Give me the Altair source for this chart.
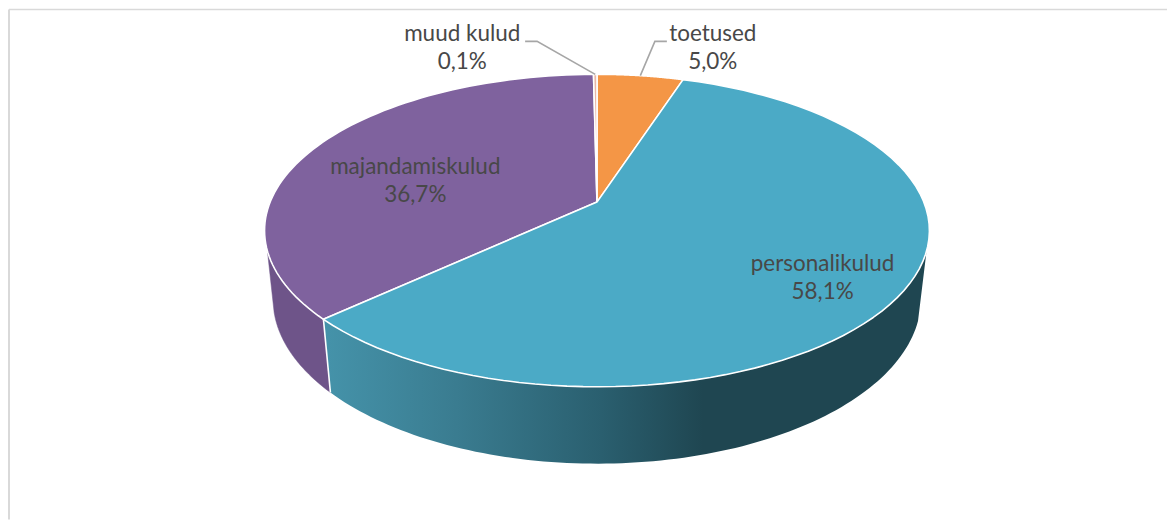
import numpy as np
import pandas as pd
import altair as alt

# --- values -----------------------------------------------------------------
categories = ["toetused", "personalikulud", "majandamiskulud", "muud kulud"]
shares = [5.0, 58.1, 36.7, 0.1]
share_labels = ["5,0%", "58,1%", "36,7%", "0,1%"]
top_colors = ["#F49646", "#4BAAC6", "#7F629E", "#E9B7A6"]

# pixels-from-centre data space of the tilted pie
TOP_RX, TOP_RY = 333.0, 156.5
BOT_RX, BOT_RY, BOT_CY = 324.5, 165.0, -68.5
APEX_Y = 28.5
PLOT_W, PLOT_H = 1160, 511
X_DOMAIN = [-589, 571]
Y_DOMAIN = [-289.5, 221.5]


def persp(theta_deg):
    """true pie angle (clockwise from top) to ellipse parameter, tilt perspective"""
    k = np.sqrt((1 - APEX_Y / TOP_RY) / (1 + APEX_Y / TOP_RY))
    h = np.radians(np.asarray(theta_deg, dtype=float)) / 2
    return 2 * np.arctan2(k * np.sin(h), np.cos(h))


def top_pt(t):
    return TOP_RX * np.sin(t), TOP_RY * np.cos(t)


def bot_pt(t):
    return BOT_RX * np.sin(t), BOT_CY + BOT_RY * np.cos(t)


total = 100.0
cum = np.cumsum([0] + shares)
cum[-1] = total
edges = cum / total * 360.0


def arc_param(a, b, n=80):
    pa, pb = float(persp(a)), float(persp(b))
    if pb < pa:
        pb += 2 * np.pi
    return np.linspace(pa, pb, n)


def poly_df(xs, ys):
    return pd.DataFrame({"x": xs, "y": ys, "seq": np.arange(len(xs))})


X = alt.X("x:Q", axis=None, scale=alt.Scale(domain=X_DOMAIN, nice=False, zero=False))
Y = alt.Y("y:Q", axis=None, scale=alt.Scale(domain=Y_DOMAIN, nice=False, zero=False))
ORDER = alt.Order("seq:Q")


def polygon(df, fill, stroke="#FFFFFF", sw=1.6):
    return alt.Chart(df).mark_line(fill=fill, stroke=stroke, strokeWidth=sw, strokeJoin="round", interpolate="linear").encode(x=X, y=Y, order=ORDER)


# --- side walls ------------------------------------------------------------
split = float(persp(edges[2]))
right_t = np.radians(97.5)
left_t = np.radians(262.5)
right_b = np.radians(97.7)
left_b = np.radians(265.2)

# teal wall
tt = np.linspace(right_t, split, 100)
bt = np.linspace(split, right_b, 100)
x1, y1 = top_pt(tt)
x2, y2 = bot_pt(bt)
teal_wall = poly_df(np.r_[x1, x2, x1[0]], np.r_[y1, y2, y1[0]])

# purple wall
tt = np.linspace(split, left_t, 60)
bt = np.linspace(left_b, split, 60)
x1, y1 = top_pt(tt)
x2, y2 = bot_pt(bt)
purple_wall = poly_df(np.r_[x1, x2, x1[0]], np.r_[y1, y2, y1[0]])

teal_gradient = alt.LinearGradient(
    gradient="linear", x1=0, x2=1, y1=0, y2=0,
    stops=[
        alt.GradientStop(offset=0.0, color="#4593AA"),
        alt.GradientStop(offset=0.22, color="#3A7C90"),
        alt.GradientStop(offset=0.46, color="#2A5F6F"),
        alt.GradientStop(offset=0.63, color="#1F4651"),
        alt.GradientStop(offset=1.0, color="#1F4651"),
    ],
)

layers = [
    polygon(purple_wall, "#6E5489", stroke="#6E5489", sw=0.5),
    polygon(teal_wall, teal_gradient, stroke="#3A7C90", sw=0.0),
]

# white seam between the two walls
sx0, sy0 = top_pt(split)
sx1, sy1 = bot_pt(split)
layers.append(
    alt.Chart(poly_df([sx0, sx1], [sy0, sy1]))
    .mark_line(color="#FFFFFF", strokeWidth=1.6)
    .encode(x=X, y=Y, order=ORDER)
)

# --- top slices ------------------------------------------------------------
for i in [2, 0, 1, 3]:
    t = arc_param(edges[i], edges[i + 1])
    ax, ay = top_pt(t)
    xs = np.r_[0.0, ax, 0.0]
    ys = np.r_[APEX_Y, ay, APEX_Y]
    layers.append(polygon(poly_df(xs, ys), top_colors[i]))

# --- leader lines ----------------------------------------------------------
LEADER = "#A6A6A6"
# anchor = mid-angle of the slice on the rim; elbow and end follow the label row
label_row_y = 189.5
mid0 = float(persp((edges[0] + edges[1]) / 2))
ax, ay = top_pt(mid0)
layers.append(
    alt.Chart(poly_df([70, 58, ax], [label_row_y, label_row_y, ay]))
    .mark_line(color=LEADER, strokeWidth=1.6)
    .encode(x=X, y=Y, order=ORDER)
)
mid3 = float(persp((edges[3] + edges[4]) / 2))
ax, ay = top_pt(mid3)
layers.append(
    alt.Chart(poly_df([-72, -60, ax], [label_row_y, label_row_y, ay]))
    .mark_line(color=LEADER, strokeWidth=1.6)
    .encode(x=X, y=Y, order=ORDER)
)

# --- labels ---------------------------------------------------------------
label_x = [116, 226, -182, -135]
label_y = [196.5, -33.5, 63.5, 196.5]
rows = []
for c, s, lx, ly in zip(categories, share_labels, label_x, label_y):
    rows.append({"x": lx, "y": ly, "t": c})
    rows.append({"x": lx, "y": ly - 28, "t": s})
layers.append(
    alt.Chart(pd.DataFrame(rows))
    .mark_text(font="Lato", fontSize=22.5, color="#484848", align="center", baseline="middle")
    .encode(x=X, y=Y, text="t:N")
)

# --- frame ----------------------------------------------------------------
frame_df = pd.DataFrame({"a": [0]})
layers.append(
    alt.Chart(frame_df).mark_rule(color="#D9D9D9", strokeWidth=2)
    .encode(x=alt.value(0), y=alt.value(0), y2=alt.value(PLOT_H))
)
layers.append(
    alt.Chart(frame_df).mark_rule(color="#D9D9D9", strokeWidth=1.5)
    .encode(x=alt.value(0), x2=alt.value(PLOT_W), y=alt.value(0))
)

chart = (
    alt.layer(*layers)
    .properties(width=PLOT_W, height=PLOT_H, padding=0, background="#FFFFFF")
    .configure_view(strokeWidth=0)
)
chart.save("out.html", embed_options={"renderer": "svg", "actions": False})
